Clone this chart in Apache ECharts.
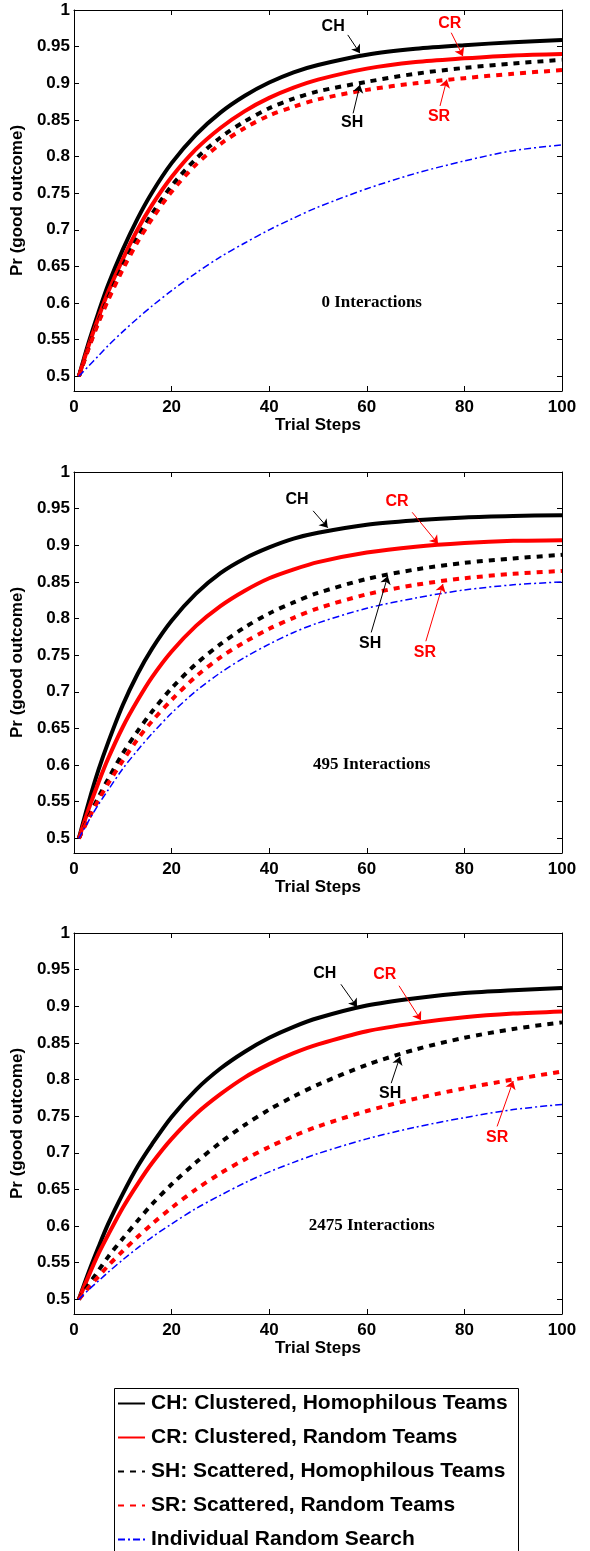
<!DOCTYPE html>
<html>
<head>
<meta charset="utf-8">
<script src="https://cdn.jsdelivr.net/npm/echarts@6/dist/echarts.min.js"></script>
<style>html,body{margin:0;padding:0;background:#fff}#c{width:590px;height:1551px}</style>
</head>
<body>
<div id="c"></div>
<script>
// ---------- data ----------
const steps = [1, 3, 5, 7, 10, 13, 16, 20, 25, 30, 35, 40, 45, 50, 60, 70, 80, 90, 100];
const yTicks = [0.5, 0.55, 0.6, 0.65, 0.7, 0.75, 0.8, 0.85, 0.9, 0.95, 1];
const seriesNames = [
  'CH: Clustered, Homophilous Teams',
  'CR: Clustered, Random Teams',
  'SH: Scattered, Homophilous Teams',
  'SR: Scattered, Random Teams',
  'Individual Random Search'
];
const panelTitles = ['0 Interactions', '495 Interactions', '2475 Interactions'];

// panel 1: 0 interactions
const p1_CH  = [0.5, 0.546, 0.587, 0.625, 0.673, 0.715, 0.751, 0.791, 0.830, 0.860, 0.883, 0.901, 0.915, 0.925, 0.939, 0.947, 0.952, 0.956, 0.959];
const p1_CR  = [0.5, 0.542, 0.580, 0.615, 0.660, 0.700, 0.734, 0.772, 0.810, 0.839, 0.862, 0.880, 0.894, 0.905, 0.920, 0.929, 0.934, 0.938, 0.940];
const p1_SH  = [0.5, 0.539, 0.575, 0.607, 0.651, 0.689, 0.722, 0.760, 0.797, 0.826, 0.848, 0.866, 0.879, 0.889, 0.902, 0.913, 0.921, 0.927, 0.932];
const p1_SR  = [0.5, 0.538, 0.573, 0.604, 0.646, 0.683, 0.715, 0.752, 0.789, 0.817, 0.839, 0.856, 0.868, 0.878, 0.891, 0.900, 0.907, 0.913, 0.918];
const p1_IND = [0.5, 0.514, 0.528, 0.542, 0.561, 0.579, 0.596, 0.617, 0.641, 0.663, 0.682, 0.700, 0.716, 0.731, 0.756, 0.777, 0.794, 0.808, 0.816];

// panel 2: 495 interactions
const p2_CH  = [0.5, 0.549, 0.593, 0.631, 0.682, 0.724, 0.759, 0.797, 0.834, 0.862, 0.882, 0.897, 0.909, 0.917, 0.928, 0.934, 0.938, 0.940, 0.941];
const p2_CR  = [0.5, 0.540, 0.576, 0.609, 0.652, 0.688, 0.720, 0.755, 0.790, 0.817, 0.838, 0.855, 0.867, 0.877, 0.890, 0.898, 0.903, 0.906, 0.907];
const p2_SH  = [0.5, 0.529, 0.556, 0.581, 0.616, 0.646, 0.673, 0.705, 0.738, 0.765, 0.788, 0.807, 0.822, 0.835, 0.854, 0.867, 0.876, 0.882, 0.887];
const p2_SR  = [0.5, 0.527, 0.552, 0.575, 0.606, 0.635, 0.660, 0.689, 0.721, 0.747, 0.768, 0.786, 0.801, 0.814, 0.833, 0.846, 0.855, 0.861, 0.865];
const p2_IND = [0.5, 0.524, 0.546, 0.566, 0.595, 0.620, 0.643, 0.671, 0.701, 0.726, 0.747, 0.765, 0.781, 0.794, 0.814, 0.828, 0.839, 0.846, 0.850];

// panel 3: 2475 interactions
const p3_CH  = [0.5, 0.537, 0.571, 0.603, 0.644, 0.681, 0.712, 0.749, 0.786, 0.815, 0.838, 0.857, 0.872, 0.884, 0.901, 0.911, 0.918, 0.922, 0.925];
const p3_CR  = [0.5, 0.532, 0.562, 0.588, 0.625, 0.657, 0.686, 0.719, 0.753, 0.780, 0.803, 0.821, 0.836, 0.848, 0.866, 0.877, 0.885, 0.890, 0.893];
const p3_SH  = [0.5, 0.520, 0.539, 0.558, 0.583, 0.607, 0.630, 0.657, 0.687, 0.714, 0.738, 0.759, 0.777, 0.793, 0.820, 0.841, 0.857, 0.869, 0.878];
const p3_SR  = [0.5, 0.516, 0.531, 0.546, 0.566, 0.585, 0.603, 0.625, 0.650, 0.672, 0.691, 0.708, 0.723, 0.736, 0.757, 0.774, 0.788, 0.800, 0.811];
const p3_IND = [0.5, 0.513, 0.525, 0.537, 0.554, 0.570, 0.585, 0.603, 0.624, 0.642, 0.659, 0.674, 0.687, 0.699, 0.719, 0.735, 0.748, 0.759, 0.766];

// annotations: label text, label position, arrow start, arrow tip (data coords)
const p1_notes = [
  {t: 'CH', c: '#000000', tx: 53.1, ty: 0.977, ax: 56.1, ay: 0.966, hx: 58.6, hy: 0.941},
  {t: 'CR', c: '#ff0000', tx: 77.0, ty: 0.981, ax: 77.3, ay: 0.969, hx: 79.7, hy: 0.937},
  {t: 'SH', c: '#000000', tx: 57.0, ty: 0.846, ax: 57.2, ay: 0.859, hx: 58.6, hy: 0.898},
  {t: 'SR', c: '#ff0000', tx: 74.8, ty: 0.855, ax: 75.0, ay: 0.869, hx: 76.4, hy: 0.905}
];
const p2_notes = [
  {t: 'CH', c: '#000000', tx: 45.7, ty: 0.963, ax: 49.0, ay: 0.947, hx: 52.0, hy: 0.924},
  {t: 'CR', c: '#ff0000', tx: 66.2, ty: 0.959, ax: 69.3, ay: 0.945, hx: 74.6, hy: 0.902},
  {t: 'SH', c: '#000000', tx: 60.7, ty: 0.766, ax: 60.9, ay: 0.781, hx: 64.3, hy: 0.858},
  {t: 'SR', c: '#ff0000', tx: 71.9, ty: 0.753, ax: 72.1, ay: 0.769, hx: 75.6, hy: 0.847}
];
const p3_notes = [
  {t: 'CH', c: '#000000', tx: 51.4, ty: 0.944, ax: 54.7, ay: 0.930, hx: 58.0, hy: 0.899},
  {t: 'CR', c: '#ff0000', tx: 63.7, ty: 0.943, ax: 66.6, ay: 0.928, hx: 71.1, hy: 0.881},
  {t: 'SH', c: '#000000', tx: 64.8, ty: 0.781, ax: 65.0, ay: 0.795, hx: 66.8, hy: 0.831},
  {t: 'SR', c: '#ff0000', tx: 86.7, ty: 0.721, ax: 86.7, ay: 0.736, hx: 90.0, hy: 0.798}
];
const titlePos = [61, 0.6];

// ---------- build ----------
const panels = [
  {vals: [p1_CH, p1_CR, p1_SH, p1_SR, p1_IND], notes: p1_notes, top: 10},
  {vals: [p2_CH, p2_CR, p2_SH, p2_SR, p2_IND], notes: p2_notes, top: 472},
  {vals: [p3_CH, p3_CR, p3_SH, p3_SR, p3_IND], notes: p3_notes, top: 933}
];
const FONT = 'Liberation Sans, Arial, sans-serif';
const lineStyles = [
  {color: '#000000', width: 4, type: 'solid'},
  {color: '#ff0000', width: 4, type: 'solid'},
  {color: '#000000', width: 4, type: [6, 6]},
  {color: '#ff0000', width: 4, type: [6, 6]},
  {color: '#0000ff', width: 1.5, type: [7, 3, 2, 3]}
];

const grids = [], xAxes = [], yAxes = [], series = [];
const axisLine = {show: true, onZero: false, lineStyle: {color: '#000', width: 1}};
const tickStyle = {show: true, inside: true, length: 5, lineStyle: {color: '#000', width: 1}};
const labelStyle = {color: '#000', fontWeight: 'bold', fontSize: 17, fontFamily: FONT};
const nameStyle = {color: '#000', fontWeight: 'bold', fontSize: 17, fontFamily: FONT};

panels.forEach((p, i) => {
  grids.push({left: 74, top: p.top, width: 488, height: 381});
  xAxes.push({gridIndex: i, type: 'value', min: 0, max: 100, interval: 20, position: 'bottom',
    axisLine, axisTick: tickStyle, splitLine: {show: false},
    axisLabel: Object.assign({margin: 8}, labelStyle),
    name: 'Trial Steps', nameLocation: 'middle', nameGap: 24, nameTextStyle: nameStyle});
  xAxes.push({gridIndex: i, type: 'value', min: 0, max: 100, interval: 20, position: 'top',
    axisLine, axisTick: tickStyle, splitLine: {show: false}, axisLabel: {show: false}});
  yAxes.push({gridIndex: i, type: 'value', min: 0.48, max: 1, position: 'left',
    axisLine, splitLine: {show: false},
    axisTick: Object.assign({customValues: yTicks}, tickStyle),
    axisLabel: Object.assign({customValues: yTicks, margin: 4,
      formatter: v => String(parseFloat(Number(v).toFixed(2)))}, labelStyle),
    name: 'Pr (good outcome)', nameLocation: 'middle', nameGap: 44, nameTextStyle: nameStyle});
  yAxes.push({gridIndex: i, type: 'value', min: 0.48, max: 1, position: 'right',
    axisLine, splitLine: {show: false},
    axisTick: Object.assign({customValues: yTicks}, tickStyle),
    axisLabel: {show: false}});

  const xi = i * 2, yi = i * 2;
  p.vals.forEach((vals, k) => {
    series.push({
      type: 'line', name: seriesNames[k], xAxisIndex: xi, yAxisIndex: yi,
      data: steps.map((s, j) => [s, vals[j]]),
      symbol: 'none', smooth: 0.3, lineStyle: Object.assign({cap: 'butt'}, lineStyles[k]),
      itemStyle: {color: lineStyles[k].color}, animation: false, z: 2 + k
    });
  });
  series.push({
    type: 'scatter', xAxisIndex: xi, yAxisIndex: yi, symbolSize: 0.1, silent: true,
    itemStyle: {color: 'rgba(0,0,0,0)'}, animation: false, z: 10,
    data: [
      {value: titlePos, label: {formatter: panelTitles[i], color: '#000000', fontFamily: 'Liberation Serif, Times New Roman, serif', fontWeight: 'bold', fontSize: 17}}
    ].concat(p.notes.map(n => ({value: [n.tx, n.ty], label: {formatter: n.t, color: n.c, fontFamily: FONT, fontWeight: 'bold', fontSize: 16}}))),
    label: {show: true, position: 'inside', textBorderWidth: 0, opacity: 1}
  });
  series.push({
    type: 'lines', coordinateSystem: 'cartesian2d', xAxisIndex: xi, yAxisIndex: yi,
    silent: true, animation: false, z: 11,
    symbol: ['none', 'arrow'], symbolSize: 8,
    data: p.notes.map(n => ({coords: [[n.ax, n.ay], [n.hx, n.hy]], lineStyle: {color: n.c, width: 1, opacity: 1, curveness: 0}}))
  });
});

const chart = echarts.init(document.getElementById('c'), null, {renderer: 'canvas'});
chart.setOption({
  animation: false,
  backgroundColor: '#fff',
  grid: grids, xAxis: xAxes, yAxis: yAxes, series,
  legend: {
    data: seriesNames, orient: 'vertical', left: 112, top: 1393,
    itemWidth: 27, itemHeight: 12, itemGap: 13, padding: [0, 0, 0, 5],
    selectedMode: false,
    itemStyle: {opacity: 0},
    textStyle: {color: '#000', fontWeight: 'bold', fontSize: 21, fontFamily: FONT, padding: [0, 0, 0, 1]}
  },
  graphic: [{type: 'rect', left: 112, top: 1386, shape: {width: 404, height: 170},
    style: {fill: 'none', stroke: '#000', lineWidth: 1}, z: 0}]
});
</script>
</body>
</html>
